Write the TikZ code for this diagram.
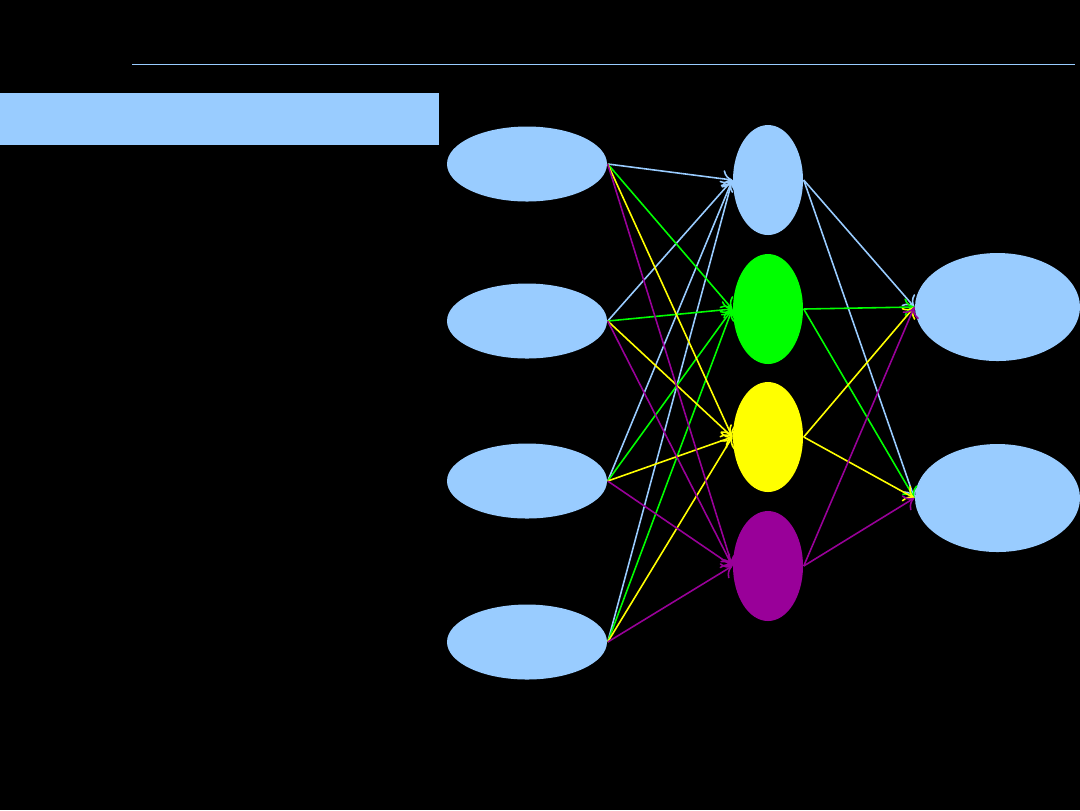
\documentclass[tikz,border=0pt]{standalone}
\usetikzlibrary{shapes.geometric,arrows.meta}

\begin{document}
\begin{tikzpicture}[x=1cm, y=1cm,
		unit/.style={ellipse, inner sep=0pt},
		inunit/.style={unit, fill=paleblue, minimum width=1.6cm, minimum height=0.75cm},
		hidunit/.style={unit, minimum width=0.7cm, minimum height=1.1cm},
		outunit/.style={unit, fill=paleblue, minimum width=1.65cm, minimum height=1.08cm},
		link/.style={-{To[length=2.8pt, width=5pt]}, line width=0.45pt}]
		% Defines colors to match the image
		\definecolor{paleblue}{RGB}{153, 204, 255} % Light blue
		\definecolor{brightgreen}{RGB}{0, 255, 0}
		\definecolor{brightyellow}{RGB}{255, 255, 0}
		\definecolor{deeppurple}{RGB}{153, 0, 153}
		
		% --- Background ---
		\fill[black] (0, 0) rectangle (10.8, -8.1);
		\useasboundingbox (0, 0) rectangle (10.8, -8.1);
		
		% --- Header ---
		\draw[paleblue, line width=0.25pt] (1.32, -0.64) -- (10.75, -0.64);
		\fill[paleblue] (0, -0.93) rectangle (4.39, -1.45);
		
		% --- Input layer ---
		\node[inunit] (in1) at (5.27, -1.64) {};
		\node[inunit] (in2) at (5.27, -3.21) {};
		\node[inunit] (in3) at (5.27, -4.81) {};
		\node[inunit] (in4) at (5.27, -6.42) {};
		
		% --- Hidden layer ---
		\node[hidunit, fill=paleblue] (hid1) at (7.68, -1.80) {};
		\node[hidunit, fill=brightgreen] (hid2) at (7.68, -3.09) {};
		\node[hidunit, fill=brightyellow] (hid3) at (7.68, -4.37) {};
		\node[hidunit, fill=deeppurple] (hid4) at (7.68, -5.66) {};
		
		% --- Output layer ---
		\node[outunit] (out1) at (9.975, -3.07) {};
		\node[outunit] (out2) at (9.975, -4.98) {};
		
		% --- Connections ---
		% Every edge takes the colour of the hidden unit it touches
		\foreach \h/\c in {1/paleblue, 2/brightgreen, 3/brightyellow, 4/deeppurple} {
			\foreach \i in {1,...,4}
				\draw[link, \c] (in\i.east) -- (hid\h.west);
			\foreach \o in {1,2}
				\draw[link, \c] (hid\h.east) -- (out\o.west);
		}
		
	\end{tikzpicture}
\end{document}
